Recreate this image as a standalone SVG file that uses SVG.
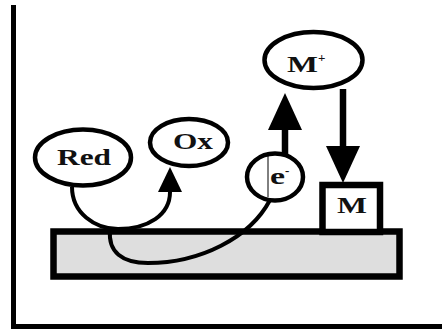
<svg xmlns="http://www.w3.org/2000/svg" width="442" height="329" viewBox="0 0 442 329">
<style>
.node{fill:#fff;stroke:#000;stroke-width:4.5}
.lbl{font-family:"Liberation Serif","Times New Roman",serif;font-weight:bold;font-size:23.5px;fill:#111;text-anchor:start}
.sup{font-family:"Liberation Serif","Times New Roman",serif;font-weight:bold;font-size:13px;fill:#111}
.curve{fill:none;stroke:#000;stroke-width:4}
.thick{fill:none;stroke:#000;stroke-width:6.5}
</style>
<defs>
<marker id="bigHead" markerUnits="userSpaceOnUse" markerWidth="38" markerHeight="34" refX="0" refY="17" orient="auto" overflow="visible">
<path d="M0,0 L37,17 L0,34 Z" fill="#000"/>
</marker>
<marker id="smallHead" markerUnits="userSpaceOnUse" markerWidth="26" markerHeight="24" refX="0" refY="12" orient="auto" overflow="visible">
<path d="M0,0 L25,12 L0,24 Z" fill="#000"/>
</marker>
</defs>
<rect width="442" height="329" fill="#fff"/>
<g id="frame">
<line x1="13.5" y1="5" x2="13.5" y2="329" stroke="#000" stroke-width="5"/>
<line x1="11" y1="326.5" x2="442" y2="326.5" stroke="#000" stroke-width="5"/>
</g>
<g id="substrate">
<rect x="53.5" y="231.5" width="346" height="45" fill="#dedede" stroke="#000" stroke-width="6.5"/>
</g>
<g id="connectors">
<path class="curve" d="M72,187 C72,213 95,229 118,229 C148,229 170,215 170,192" marker-end="url(#smallHead)"/>
<path class="curve" d="M110,230 C108,252 122,263 148,263 C200,263 250,238 270,200"/>
<line class="thick" x1="285" y1="154" x2="285" y2="130" marker-end="url(#bigHead)"/>
<line class="thick" x1="343" y1="89" x2="343" y2="146" marker-end="url(#bigHead)"/>
</g>
<g id="node-red">
<ellipse class="node" cx="83" cy="157.5" rx="48" ry="28"/>
<text class="lbl" x="57" y="164.5" textLength="54" lengthAdjust="spacingAndGlyphs">Red</text>
</g>
<g id="node-ox">
<ellipse class="node" cx="189" cy="142.5" rx="39" ry="23.5"/>
<text class="lbl" x="173" y="148.5" textLength="40" lengthAdjust="spacingAndGlyphs">Ox</text>
</g>
<g id="node-mplus">
<ellipse class="node" cx="313.5" cy="60" rx="49" ry="28"/>
<text class="lbl" x="287" y="72" textLength="31" lengthAdjust="spacingAndGlyphs">M</text>
<text class="sup" x="318" y="62">+</text>
</g>
<g id="node-e">
<ellipse class="node" cx="275" cy="177" rx="28" ry="23.5"/>
<line x1="268" y1="152" x2="268" y2="197" stroke="#000" stroke-width="1"/>
<text class="lbl" x="270" y="184" font-size="25" textLength="15" lengthAdjust="spacingAndGlyphs">e</text>
<text class="sup" x="285" y="175">-</text>
</g>
<g id="node-m">
<rect x="322.5" y="185" width="57.5" height="47" fill="#fff" stroke="#000" stroke-width="6.5"/>
<text class="lbl" x="337" y="213" textLength="30" lengthAdjust="spacingAndGlyphs">M</text>
</g>
</svg>
